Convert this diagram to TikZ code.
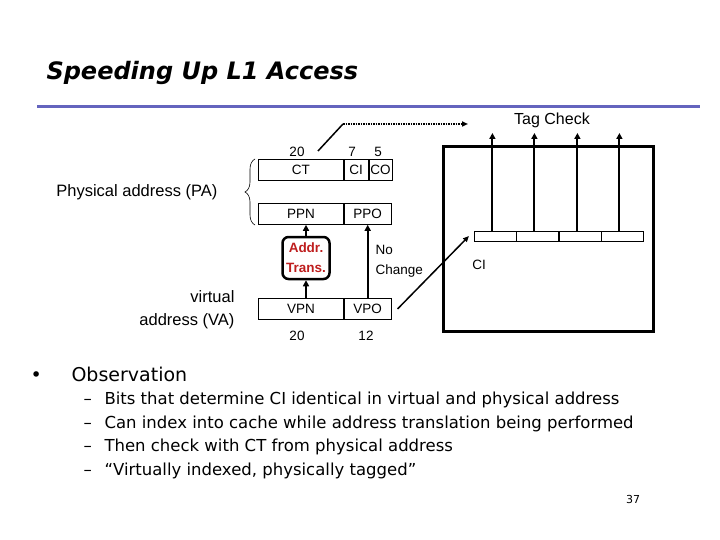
\documentclass[tikz,border=0pt]{standalone}
\usepackage{fontspec}
\setmainfont{Liberation Sans}
\newfontfamily\comic{DejaVu Sans}
\usetikzlibrary{arrows.meta}
\usetikzlibrary{decorations.pathreplacing}
\definecolor{rulecol}{RGB}{100,100,190}
\definecolor{transred}{RGB}{190,30,30}
\begin{document}
\begin{tikzpicture}[x=1pt,y=-1pt,
  field/.style={draw,line width=0.8pt,minimum height=21pt,inner sep=0pt,font=\fontsize{13.5}{15}\selectfont},
  bigarr/.style={line width=2pt,-{Triangle[length=6pt,width=6pt]}},
  lbl/.style={font=\fontsize{13.5}{15}\selectfont}]
\useasboundingbox (0,0) rectangle (720,540);
\node [anchor=west,font=\comic\bfseries\itshape\fontsize{24}{28}\selectfont] at (43,73) {Speeding Up L1 Access};
\draw [line width=3pt, rulecol] (37,107) -- (700,107);
% cache
\draw [line width=3pt] (443,147) rectangle (653,331);
\foreach \x [count=\i] in {474,516,559,601} {
  \node [draw,line width=0.8pt,minimum width=42pt,minimum height=10pt,inner sep=0pt,anchor=north west] (set\i) at (\x,231) {};
  \draw [bigarr] ([xshift=-3pt]set\i.north) -- ++(0,-98);
}
\node [font=\fontsize{16}{18}\selectfont] (tag) at (552,120) {Tag Check};
% address fields
\node [field,minimum width=85pt,anchor=north west] (ct) at (258,159) {CT};
\node [field,minimum width=24pt,anchor=west] (ci) at (ct.east) {CI};
\node [field,minimum width=23pt,anchor=west] (co) at (ci.east) {CO};
\node [field,minimum width=85pt,anchor=north west] (ppn) at (258,203) {PPN};
\node [field,minimum width=47pt,anchor=west] (ppo) at (ppn.east) {PPO};
\node [field,minimum width=85pt,anchor=north west] (vpn) at (258,298) {VPN};
\node [field,minimum width=47pt,anchor=west] (vpo) at (vpn.east) {VPO};
\node [draw,line width=2.5pt,rounded corners=6pt,minimum width=47pt,minimum height=42pt,align=center,text=transred,font=\bfseries\fontsize{13.5}{20}\selectfont] (trans) at (306,258) {Addr.\\Trans.};
\node [lbl] at (297,152) {20};
\node [lbl] at (352,152) {7};
\node [lbl] at (378,152) {5};
\node [lbl] at (297,336) {20};
\node [lbl] at (366,336) {12};
\draw [bigarr] (vpn.north -| trans) -- (trans.south);
\draw [bigarr] (trans.north) -- (ppn.south -| trans);
\draw [bigarr] (vpo.north) -- (ppo.south);
\node [lbl,anchor=west] at (372,250) {No};
\node [lbl,anchor=west] at (372,271) {Change};
\coordinate (dotstart) at (318,151);
\coordinate (dotbend) at (343,124);
\draw [line width=1.5pt] (dotstart) -- (dotbend);
\draw [line width=1.5pt,densely dotted,-{Triangle[length=6pt,width=5pt]}] (dotbend) -- (468,124);
\draw [line width=1.5pt,-{Triangle[length=6pt,width=5pt]}] ([xshift=6pt]vpo.east) -- (469,236);
\node [lbl] at (479,265) {CI};
% labels
\draw [line width=0.6pt,decorate,decoration={brace,amplitude=10pt,mirror}] (255,159) -- (255,225);
\node [font=\fontsize{16.5}{18}\selectfont,anchor=east] at (221,192) {Physical address (PA)};
\node [font=\fontsize{16.5}{23}\selectfont,align=right,anchor=east] at (238,310) {virtual\\address (VA)};
% bullets
\begin{scope}[every node/.style={anchor=base west,font=\comic\fontsize{19}{20}\selectfont}]
\node at (27,381) {\textbullet};
\node at (68,381) {Observation};
\foreach \t [count=\i] in {Bits that determine CI identical in virtual and physical address,
  Can index into cache while address translation being performed,
  Then check with CT from physical address,
  {“Virtually indexed, physically tagged”}} {
  \node [font=\comic\fontsize{16.5}{18}\selectfont] at (80,{381+23.6*\i}) {–};
  \node [font=\comic\fontsize{16.5}{18}\selectfont] at (101,{381+23.6*\i}) {\t};
}
\end{scope}
\node [font=\comic\fontsize{11}{12}\selectfont] at (633,499) {37};
\end{tikzpicture}
\end{document}
